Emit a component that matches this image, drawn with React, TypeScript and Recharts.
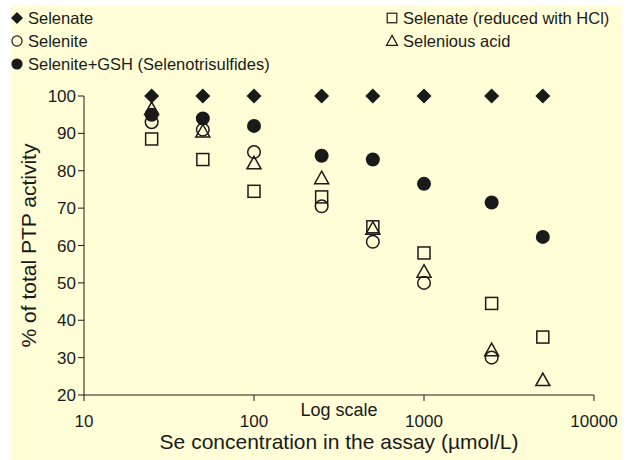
import React from "react";
import { Label, Scatter, ScatterChart, XAxis, YAxis } from "recharts";

const concentrations = [25, 50, 100, 250, 500, 1000, 2500, 5000];
const selenate = [100, 100, 100, 100, 100, 100, 100, 100];
const selenite = [93, 91, 85, 70.5, 61, 50, 30, null];
const selenotrisulfides = [95, 94, 92, 84, 83, 76.5, 71.5, 62.3];
const selenateHcl = [88.5, 83, 74.5, 73, 65, 58, 44.5, 35.5];
const seleniousAcid = [96.5, 90.5, 82, 78, 64.5, 53, 32, 24];

const xTicks = [10, 100, 1000, 10000];
const yTicks = [20, 30, 40, 50, 60, 70, 80, 90, 100];

const FONT = '"Liberation Sans", Arial, sans-serif';
const INK = "#1a1a1a";

const toPoints = (values: (number | null)[]) =>
  concentrations
    .map((x, i) => ({ x, y: values[i] }))
    .filter((p) => p.y !== null);

const Diamond = ({ cx, cy }: any) => (
  <path
    d={`M${cx},${cy - 7.5} L${cx + 7.5},${cy} L${cx},${cy + 7.5} L${cx - 7.5},${cy} Z`}
    fill={INK}
  />
);

const Dot = ({ cx, cy }: any) => <circle cx={cx} cy={cy} r={7} fill={INK} />;

const Ring = ({ cx, cy }: any) => (
  <circle cx={cx} cy={cy} r={6.3} fill="none" stroke={INK} strokeWidth={1.5} />
);

const Box = ({ cx, cy }: any) => (
  <rect
    x={cx - 6}
    y={cy - 6}
    width={12}
    height={12}
    fill="none"
    stroke={INK}
    strokeWidth={1.5}
  />
);

const Tri = ({ cx, cy }: any) => (
  <path
    d={`M${cx},${cy - 7} L${cx + 7},${cy + 5.5} L${cx - 7},${cy + 5.5} Z`}
    fill="none"
    stroke={INK}
    strokeWidth={1.5}
  />
);

const legendRows = [
  { name: "Selenate", Shape: Diamond, x: 17, y: 18 },
  { name: "Selenite", Shape: Ring, x: 17, y: 41 },
  { name: "Selenite+GSH (Selenotrisulfides)", Shape: Dot, x: 17, y: 64 },
  { name: "Selenate (reduced with HCl)", Shape: Box, x: 392, y: 18 },
  { name: "Selenious acid", Shape: Tri, x: 392, y: 41 },
];

const App = () => {
  const tickStyle = { fontSize: 17, fill: INK, fontFamily: FONT };
  return (
    <div style={{ position: "absolute", left: 0, top: 0, width: 631, height: 460 }}>
      <div
        style={{
          position: "absolute",
          left: 12,
          top: 5,
          width: 610,
          height: 455,
          background: "#FFFED6",
        }}
      />
      <svg
        width={631}
        height={80}
        style={{ position: "absolute", left: 0, top: 0 }}
      >
        {legendRows.map(({ name, Shape, x, y }) => (
          <g key={name}>
            <g transform={`translate(${x},${y}) scale(0.8)`}>
              <Shape cx={0} cy={0} />
            </g>
            <text
              x={x + 11}
              y={y}
              dominantBaseline="central"
              fontSize={16.5}
              fontFamily={FONT}
              fill={INK}
            >
              {name}
            </text>
          </g>
        ))}
      </svg>
      <div style={{ position: "absolute", left: 0, top: 0 }}>
        <ScatterChart
          width={631}
          height={460}
          margin={{ top: 96, right: 37, bottom: 35, left: 24 }}
        >
          <XAxis
            type="number"
            dataKey="x"
            scale="log"
            domain={[10, 10000]}
            ticks={xTicks}
            height={30}
            tickSize={6}
            tickMargin={14}
            tick={tickStyle}
            stroke={INK}
          >
            <Label
              value="Log scale"
              position="center"
              style={{ fontSize: 18, fill: INK, fontFamily: FONT }}
            />
            <Label
              value="Se concentration in the assay (µmol/L)"
              position="bottom"
              offset={9}
              style={{ fontSize: 21, fill: INK, fontFamily: FONT }}
            />
          </XAxis>
          <YAxis
            type="number"
            dataKey="y"
            domain={[20, 100]}
            ticks={yTicks}
            width={60}
            tickSize={6}
            tick={tickStyle}
            stroke={INK}
          >
            <Label
              value="% of total PTP activity"
              angle={-90}
              position="insideLeft"
              offset={5}
              style={{ fontSize: 21, fill: INK, fontFamily: FONT, textAnchor: "middle" }}
            />
          </YAxis>
          <Scatter name="Selenate (reduced with HCl)" data={toPoints(selenateHcl)} shape={Box} isAnimationActive={false} />
          <Scatter name="Selenious acid" data={toPoints(seleniousAcid)} shape={Tri} isAnimationActive={false} />
          <Scatter name="Selenite" data={toPoints(selenite)} shape={Ring} isAnimationActive={false} />
          <Scatter name="Selenite+GSH (Selenotrisulfides)" data={toPoints(selenotrisulfides)} shape={Dot} isAnimationActive={false} />
          <Scatter name="Selenate" data={toPoints(selenate)} shape={Diamond} isAnimationActive={false} />
        </ScatterChart>
      </div>
    </div>
  );
};

export default App;
